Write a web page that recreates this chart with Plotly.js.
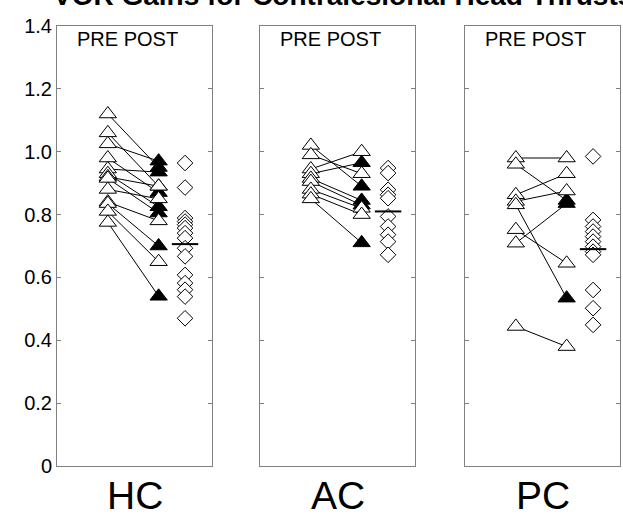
<!DOCTYPE html>
<html>
<head>
<meta charset="utf-8">
<script src="https://cdn.plot.ly/plotly-3.0.1.min.js"></script>
<style>html,body{margin:0;padding:0;background:#fff;}#chart{width:623px;height:519px;}</style>
</head>
<body>
<div id="chart"></div>
<script>
// ---- data ----
const groups = ['HC', 'AC', 'PC'];
const columnLabel = 'PRE POST';
const titleText = 'VOR Gains for Contralesional Head Thrusts';
const yTickVals = [0, 0.2, 0.4, 0.6, 0.8, 1.0, 1.2, 1.4];
const yTickText = ['0', '0.2', '0.4', '0.6', '0.8', '1.0', '1.2', '1.4'];

const hcPre    = [1.12, 1.06, 1.025, 0.98, 0.945, 0.93, 0.92, 0.915, 0.88, 0.84, 0.835, 0.81, 0.775];
const hcPost   = [0.95, 0.89, 0.97, 0.87, 0.935, 0.825, 0.89, 0.805, 0.85, 0.78, 0.70, 0.65, 0.54];
const hcFilled = [1, 0, 1, 1, 1, 1, 0, 1, 0, 0, 1, 0, 1];
const hcRatio  = [0.964, 0.886, 0.789, 0.778, 0.768, 0.757, 0.741, 0.725, 0.693, 0.667, 0.608, 0.582, 0.561, 0.539, 0.470];
const hcMedian = 0.706;

const acPre    = [1.02, 0.99, 0.945, 0.93, 0.915, 0.905, 0.88, 0.865, 0.85];
const acPost   = [0.89, 0.93, 1.00, 0.965, 0.845, 0.83, 0.82, 0.80, 0.71];
const acFilled = [1, 0, 0, 1, 1, 1, 0, 0, 1];
const acRatio  = [0.948, 0.932, 0.879, 0.863, 0.852, 0.794, 0.762, 0.736, 0.714, 0.672];
const acMedian = 0.81;

const pcPre    = [0.98, 0.96, 0.863, 0.842, 0.831, 0.752, 0.709, 0.444];
const pcPost   = [0.98, 0.845, 0.93, 0.875, 0.534, 0.645, 0.835, 0.38];
const pcFilled = [0, 1, 0, 0, 1, 0, 1, 0];
const pcRatio  = [0.985, 0.783, 0.762, 0.746, 0.730, 0.714, 0.698, 0.682, 0.672, 0.56, 0.502, 0.449];
const pcMedian = 0.69;

// ---- build ----
const panels = [
  {pre: hcPre, post: hcPost, filled: hcFilled, ratio: hcRatio, median: hcMedian},
  {pre: acPre, post: acPost, filled: acFilled, ratio: acRatio, median: acMedian},
  {pre: pcPre, post: pcPost, filled: pcFilled, ratio: pcRatio, median: pcMedian}
];
const PRE_X = 1, POST_X = 2, RATIO_X = 2.52;
const domains = [[0, 0.2753], [0.3606, 0.6359], [0.7247, 1.0]];
const axColor = '#808080';
const font = 'Liberation Sans, Arial, Helvetica, sans-serif';

const traces = [];
const layout = {
  width: 623, height: 519,
  margin: {l: 57, r: 3, t: 26, b: 53},
  paper_bgcolor: '#fff', plot_bgcolor: '#fff',
  showlegend: false,
  font: {family: font, color: '#000'},
  annotations: []
};

panels.forEach((p, k) => {
  const sfx = k === 0 ? '' : String(k + 1);
  const xa = 'x' + sfx, ya = 'y' + sfx;
  const lx = [], ly = [];
  p.pre.forEach((v, i) => { lx.push(PRE_X, POST_X, null); ly.push(v, p.post[i], null); });
  traces.push({x: lx, y: ly, xaxis: xa, yaxis: ya, mode: 'lines', line: {color: '#000', width: 1}, hoverinfo: 'skip'});
  traces.push({x: p.pre.map(() => PRE_X), y: p.pre, xaxis: xa, yaxis: ya, mode: 'markers',
    marker: {symbol: 'triangle-up', size: 15, color: '#fff', line: {color: '#000', width: 1}}});
  traces.push({x: p.post.map(() => POST_X), y: p.post, xaxis: xa, yaxis: ya, mode: 'markers',
    marker: {symbol: 'triangle-up', size: 15, color: p.filled.map(f => f ? '#000' : '#fff'), line: {color: '#000', width: 1}}});
  traces.push({x: p.ratio.map(() => RATIO_X), y: p.ratio, xaxis: xa, yaxis: ya, mode: 'markers',
    marker: {symbol: 'diamond', size: 12, color: '#fff', line: {color: '#000', width: 1}}});
  traces.push({x: [2.26, 2.78], y: [p.median, p.median], xaxis: xa, yaxis: ya, mode: 'lines',
    line: {color: '#000', width: 2}});

  layout['xaxis' + sfx] = {
    domain: domains[k], anchor: ya, range: [0, 3.05],
    showline: true, linecolor: axColor, linewidth: 1, mirror: true,
    showgrid: false, zeroline: false, showticklabels: false, ticks: ''
  };
  layout['yaxis' + sfx] = {
    anchor: xa, range: [0, 1.4],
    showline: true, linecolor: axColor, linewidth: 1, mirror: 'ticks',
    ticks: 'inside', ticklen: 4, tickcolor: axColor,
    tickvals: yTickVals, ticktext: yTickText,
    showticklabels: k === 0, tickfont: {size: 20, color: '#000', family: font},
    showgrid: false, zeroline: false
  };
  layout.annotations.push({xref: xa, yref: 'paper', x: 1.39, y: 1, yanchor: 'top', yshift: 0,
    text: columnLabel, showarrow: false, font: {size: 20, color: '#000', family: font}});
  layout.annotations.push({xref: xa, yref: 'paper', x: 1.525, y: -0.066, yanchor: 'middle',
    text: groups[k], showarrow: false, font: {size: 39, color: '#000', family: font}});
});

layout.annotations.push({xref: 'paper', yref: 'paper', x: 0.0, xanchor: 'left', xshift: -6, y: 1.07, yanchor: 'middle',
  text: '<b>' + titleText + '</b>', showarrow: false, font: {size: 28, color: '#000', family: font}});

Plotly.newPlot('chart', traces, layout, {displayModeBar: false, staticPlot: true});
</script>
</body>
</html>
